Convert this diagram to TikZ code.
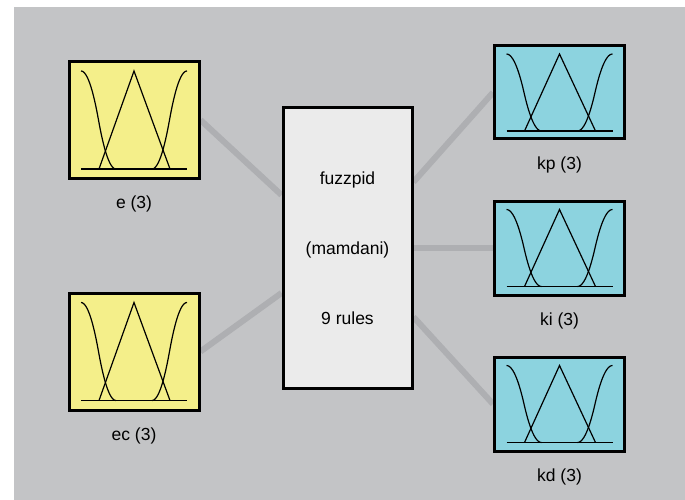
\documentclass[tikz,border=0pt]{standalone}
\usepackage{fontspec}
\setmainfont{Liberation Sans}
\usepackage{tikz}
\usetikzlibrary{calc,backgrounds}

\definecolor{bggray}{HTML}{C3C4C6}
\definecolor{wiregray}{HTML}{AEAFB2}
\definecolor{inyellow}{HTML}{F4EF8A}
\definecolor{outcyan}{HTML}{8CD3DF}
\definecolor{fisgray}{HTML}{EBEBEB}

\tikzset{
	varbox/.style={draw=black,line width=3pt,inner sep=0pt,minimum width=130pt},
	wire/.style={wiregray,line width=6pt},
	mf/.style={black,line width=1.2pt},
}

% three membership functions drawn in a box: #1 node, #2 half height
\newcommand{\mfsketch}[2]{%
	\begin{scope}[shift={(#1.center)}]
		\draw[mf] plot[domain=0:0.5,samples=15] ({-53+35*\x},{#2*(4*\x*\x-1)})
			-- plot[domain=0.5:1,samples=15] ({-53+35*\x},{#2*(1-4*(1-\x)^2)});
		\draw[mf] plot[domain=0:0.5,samples=15] ({53-35*\x},{#2*(4*\x*\x-1)})
			-- plot[domain=0.5:1,samples=15] ({53-35*\x},{#2*(1-4*(1-\x)^2)});
		\draw[mf] (-35,#2) -- (0,-#2) -- (36,#2);
		\draw[black,line width=1.8pt] (-53,#2) -- (53,#2);
	\end{scope}}

\begin{document}
\begin{tikzpicture}[x=1pt,y=-1pt,font=\fontsize{17.5}{20}\selectfont]
		\useasboundingbox (0,0) rectangle (685,500);
		\node[varbox,fill=inyellow,minimum height=116pt] (e) at (134,120) {};
		\node[varbox,fill=inyellow,minimum height=117pt] (ec) at (134,351.5) {};
		\node[varbox,fill=fisgray,minimum width=129pt,minimum height=280pt] (fis) at (347.5,248) {};
		\node[varbox,fill=outcyan,minimum height=93pt] (kp) at (559.5,92.5) {};
		\node[varbox,fill=outcyan,minimum height=94pt] (ki) at (559.5,248) {};
		\node[varbox,fill=outcyan,minimum height=94pt] (kd) at (559.5,404) {};
		\coordinate (fis-in1) at ([yshift=53pt]fis.west);
		\coordinate (fis-in2) at ([yshift=-45pt]fis.west);
		\coordinate (fis-out1) at ([yshift=66pt]fis.east);
		\coordinate (fis-out3) at ([yshift=-69pt]fis.east);
		\begin{scope}[on background layer]
			\fill[bggray] (14,7) rectangle (685,500);
			\draw[wire] (e.east) -- (fis-in1);
			\draw[wire] (ec.east) -- (fis-in2);
			\draw[wire] (fis-out1) -- (kp.west);
			\draw[wire] (fis.east) -- (ki.west);
			\draw[wire] (fis-out3) -- (kd.west);
		\end{scope}
		\mfsketch{e}{49}
		\mfsketch{ec}{49}
		\mfsketch{kp}{38.5}
		\mfsketch{ki}{38.5}
		\mfsketch{kd}{38.5}
		\node (fis-name) at (347.5,180) {fuzzpid};
		\node (fis-type) at (347.5,250) {(mamdani)};
		\node (fis-rules) at (347.5,318) {9 rules};
		\node (e-lab) at ([yshift=-24pt]e.south) {e (3)};
		\node (ec-lab) at ([yshift=-24pt]ec.south) {ec (3)};
		\node (kp-lab) at ([yshift=-24pt]kp.south) {kp (3)};
		\node (ki-lab) at ([yshift=-24pt]ki.south) {ki (3)};
		\node (kd-lab) at ([yshift=-24pt]kd.south) {kd (3)};
\end{tikzpicture}
\end{document}
